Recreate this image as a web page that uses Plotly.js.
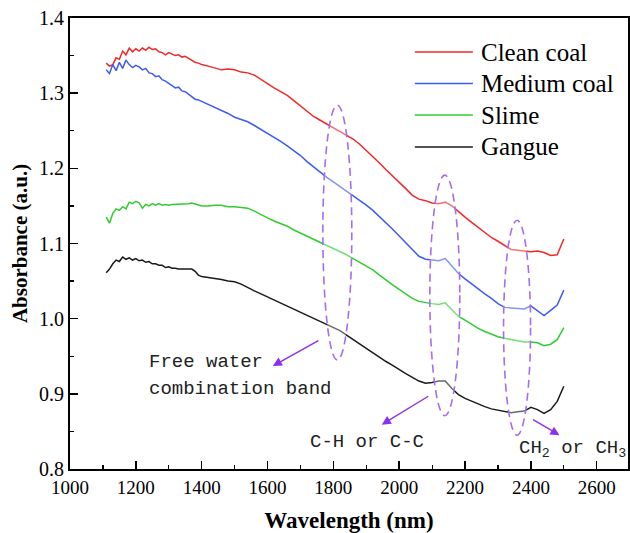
<!DOCTYPE html>
<html>
<head>
<meta charset="utf-8">
<script src="https://cdn.plot.ly/plotly-3.0.1.min.js"></script>
<style>html,body{margin:0;padding:0;background:#fff;}#chart{width:630px;height:533px;}</style>
</head>
<body>
<div id="chart"></div>
<script>
const wavelength = [1110,1120,1130,1140,1150,1160,1170,1180,1190,1200,1210,1220,1230,1240,1250,1260,1270,1280,1290,1300,1310,1320,1330,1340,1350,1360,1370,1380,1390,1400,
1420,1440,1460,1480,1500,1520,1540,1560,1580,1600,1620,1640,1660,1680,1700,1720,1740,1760,1780,1800,1820,1840,1860,1880,1900,1920,1940,1960,1980,2000,2020,2040,2060,2080,2100,2120,2140,2160,2180,2200,2220,2240,2260,2280,2300,2320,2340,2360,2380,2400,2420,2440,2460,2480,2500];

const cleanCoal = [1.340,1.336,1.338,1.347,1.345,1.356,1.351,1.360,1.355,1.359,1.356,1.360,1.357,1.361,1.358,1.359,1.355,1.354,1.351,1.354,1.352,1.350,1.351,1.348,1.349,1.346,1.344,1.341,1.340,1.338,
1.336,1.333,1.331,1.332,1.331,1.328,1.327,1.324,1.318,1.312,1.307,1.302,1.297,1.290,1.283,1.276,1.269,1.264,1.259,1.255,1.250,1.245,1.239,1.232,1.224,1.215,1.207,1.198,1.190,1.182,1.173,1.164,1.159,1.157,1.154,1.153,1.155,1.150,1.142,1.135,1.128,1.121,1.114,1.108,1.103,1.097,1.092,1.091,1.090,1.089,1.090,1.088,1.084,1.085,1.106];

const mediumCoal = [1.331,1.326,1.338,1.330,1.341,1.333,1.344,1.338,1.334,1.337,1.335,1.331,1.333,1.327,1.326,1.322,1.323,1.318,1.316,1.313,1.311,1.307,1.308,1.303,1.302,1.299,1.296,1.292,1.291,1.289,
1.285,1.282,1.277,1.273,1.268,1.265,1.262,1.257,1.252,1.247,1.242,1.236,1.230,1.224,1.217,1.209,1.202,1.194,1.188,1.182,1.176,1.170,1.164,1.157,1.151,1.144,1.136,1.128,1.119,1.110,1.101,1.092,1.083,1.079,1.078,1.077,1.080,1.070,1.060,1.053,1.046,1.039,1.033,1.027,1.020,1.015,1.014,1.013,1.013,1.017,1.010,1.004,1.011,1.018,1.038];

const slime = [1.135,1.127,1.140,1.146,1.144,1.149,1.146,1.155,1.153,1.156,1.154,1.147,1.152,1.150,1.153,1.151,1.153,1.151,1.152,1.151,1.152,1.152,1.153,1.152,1.153,1.153,1.154,1.153,1.151,1.150,
1.150,1.151,1.151,1.149,1.149,1.148,1.147,1.143,1.138,1.134,1.130,1.127,1.123,1.118,1.114,1.110,1.106,1.102,1.097,1.093,1.089,1.085,1.080,1.075,1.070,1.065,1.058,1.051,1.045,1.039,1.033,1.027,1.023,1.021,1.020,1.019,1.021,1.012,1.003,0.998,0.992,0.987,0.983,0.979,0.976,0.974,0.972,0.970,0.969,0.969,0.968,0.964,0.966,0.972,0.988];

const gangue = [1.061,1.066,1.073,1.078,1.076,1.082,1.079,1.081,1.078,1.080,1.077,1.078,1.075,1.076,1.073,1.073,1.071,1.071,1.068,1.069,1.067,1.067,1.066,1.066,1.065,1.065,1.066,1.063,1.058,1.056,
1.055,1.054,1.052,1.050,1.049,1.046,1.041,1.037,1.033,1.029,1.025,1.021,1.017,1.013,1.009,1.005,1.001,0.997,0.993,0.989,0.984,0.978,0.972,0.967,0.961,0.955,0.949,0.943,0.938,0.932,0.927,0.922,0.917,0.914,0.915,0.917,0.917,0.907,0.899,0.894,0.890,0.886,0.883,0.880,0.878,0.876,0.875,0.876,0.877,0.882,0.879,0.874,0.879,0.890,0.910];

const seriesNames = ['Clean coal','Medium coal','Slime','Gangue'];
const seriesColors = ['#f02828','#3d5cf0','#30cc30','#1a1a1a'];
const seriesValues = [cleanCoal, mediumCoal, slime, gangue];

// band regions (ellipses): [x0, x1, y0, y1]
const bandX0 = [1768, 2093, 2317];
const bandX1 = [1856, 2184, 2399];
const bandY0 = [0.945, 0.871, 0.845];
const bandY1 = [1.284, 1.191, 1.131];

// arrows: tail -> head
const arrowTailX = [1759, 2093, 2402];
const arrowTailY = [0.972, 0.898, 0.867];
const arrowHeadX = [1616, 1947, 2487];
const arrowHeadY = [0.937, 0.859, 0.845];

const labelTexts = ['Free water', 'combination band', 'C-H or C-C', 'CH<sub>2</sub> or CH<sub>3</sub>'];
const labelX = [1234, 1234, 1722, 2357];
const labelY = [0.942, 0.907, 0.836, 0.827];

const traces = seriesValues.map((v, i) => ({
  x: wavelength, y: v, type: 'scatter', mode: 'lines', name: seriesNames[i],
  line: {color: seriesColors[i], width: 1.5}, showlegend: false
}));

const shapes = bandX0.map((x0, i) => ({
  type: 'circle', xref: 'x', yref: 'y', x0: x0, x1: bandX1[i], y0: bandY0[i], y1: bandY1[i],
  line: {color: '#a66cf2', width: 1.6, dash: '8px,5px'},
  fillcolor: 'rgba(255,255,255,0.35)', layer: 'above'
}));

// manual legend (paper coordinates)
const legLineX0 = 0.618, legLineX1 = 0.722, legTextX = 0.733;
const legRowY = [0.9246, 0.8548, 0.7849, 0.7140];
seriesNames.forEach((n, i) => {
  shapes.push({type: 'line', xref: 'paper', yref: 'paper', x0: legLineX0, x1: legLineX1,
    y0: legRowY[i], y1: legRowY[i], line: {color: seriesColors[i], width: 1.5}});
});

const annotations = [];
seriesNames.forEach((n, i) => {
  annotations.push({x: legTextX, y: legRowY[i], xref: 'paper', yref: 'paper', text: n, showarrow: false,
    xanchor: 'left', yanchor: 'middle', font: {family: 'Liberation Serif, serif', size: 25, color: '#000'}});
});
arrowTailX.forEach((tx, i) => {
  annotations.push({
    x: arrowHeadX[i], y: arrowHeadY[i], xref: 'x', yref: 'y',
    ax: tx, ay: arrowTailY[i], axref: 'x', ayref: 'y',
    text: '', showarrow: true, arrowhead: 2, arrowsize: 1.3, arrowwidth: 1.4, arrowcolor: '#8a30f0'
  });
});
labelTexts.forEach((t, i) => {
  annotations.push({
    x: labelX[i], y: labelY[i], xref: 'x', yref: 'y', text: t, showarrow: false,
    xanchor: 'left', yanchor: 'middle',
    font: {family: 'Liberation Mono, DejaVu Sans Mono, monospace', size: 19, color: '#222'}
  });
});

const layout = {
  width: 630, height: 533,
  margin: {l: 70, r: 2, t: 18, b: 64},
  paper_bgcolor: '#fff', plot_bgcolor: '#fff',
  font: {family: 'Liberation Serif, Times New Roman, serif', color: '#000', size: 19},
  showlegend: false,
  xaxis: {
    range: [1000, 2695], tickvals: [1000,1200,1400,1600,1800,2000,2200,2400,2600],
    ticks: 'inside', ticklen: 8, tickwidth: 1.5, tickcolor: '#000',
    minor: {ticks: 'inside', ticklen: 4, tickwidth: 1.2, dtick: 100, tick0: 1000, tickcolor: '#000'},
    showline: true, linewidth: 2, linecolor: '#000', mirror: true,
    showgrid: false, zeroline: false,
    tickfont: {family: 'Liberation Serif, serif', size: 19, color: '#000'},
    title: {text: '<b>Wavelength (nm)</b>', font: {family: 'Liberation Serif, serif', size: 23, color: '#000'}, standoff: 15}
  },
  yaxis: {
    range: [0.8, 1.4], tickvals: [0.8,0.9,1.0,1.1,1.2,1.3,1.4], ticktext: ['0.8','0.9','1.0','1.1','1.2','1.3','1.4'],
    ticks: 'inside', ticklen: 8, tickwidth: 1.5, tickcolor: '#000',
    minor: {ticks: 'inside', ticklen: 4, tickwidth: 1.2, dtick: 0.05, tick0: 0.8, tickcolor: '#000'},
    showline: true, linewidth: 2, linecolor: '#000', mirror: true,
    showgrid: false, zeroline: false,
    tickfont: {family: 'Liberation Serif, serif', size: 20, color: '#000'},
    title: {text: '<b>Absorbance (a.u.)</b>', font: {family: 'Liberation Serif, serif', size: 21, color: '#000'}, standoff: 6}
  },
  shapes: shapes,
  annotations: annotations
};

Plotly.newPlot('chart', traces, layout, {displayModeBar: false, staticPlot: true});
</script>
</body>
</html>
